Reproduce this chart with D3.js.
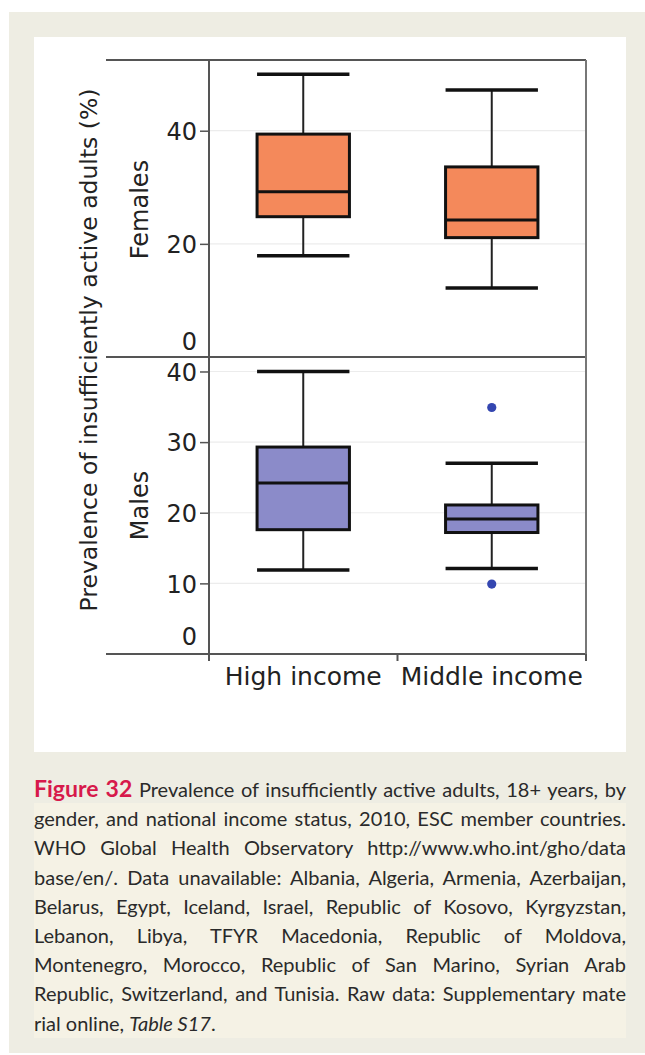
<!DOCTYPE html>
<html>
<head>
<meta charset="utf-8">
<script src="https://cdn.jsdelivr.net/npm/d3@7"></script>
<style>
  html, body { margin: 0; padding: 0; background: #ffffff; }
  svg { display: block; }
</style>
</head>
<body>
<svg id="chart" width="645" height="1055"></svg>
<script>
// ---------------- data ----------------
const categories = ["High income", "Middle income"];
const panelNames = ["Females", "Males"];

const femaleLow    = [17.9, 12.2];
const femaleQ1     = [24.8, 21.1];
const femaleMedian = [29.2, 24.2];
const femaleQ3     = [39.4, 33.6];
const femaleHigh   = [50.0, 47.2];
const femaleOutliers = [[], []];

const maleLow    = [11.9, 12.1];
const maleQ1     = [17.6, 17.2];
const maleMedian = [24.2, 19.1];
const maleQ3     = [29.3, 21.1];
const maleHigh   = [40.0, 27.0];
const maleOutliers = [[], [34.9, 9.9]];

const femaleTicks = [0, 20, 40];
const maleTicks   = [0, 10, 20, 30, 40];

const yAxisTitle = "Prevalence of insufficiently active adults (%)";

const captionLines = [
  [{t: "Figure 32", s: "fig"}, {t: " Prevalence of insufficiently active adults, 18+ years, by", s: "n"}],
  [{t: "gender, and national income status, 2010, ESC member countries.", s: "n"}],
  [{t: "WHO Global Health Observatory http://www.who.int/gho/data", s: "n"}],
  [{t: "base/en/. Data unavailable: Albania, Algeria, Armenia, Azerbaijan,", s: "n"}],
  [{t: "Belarus, Egypt, Iceland, Israel, Republic of Kosovo, Kyrgyzstan,", s: "n"}],
  [{t: "Lebanon, Libya, TFYR Macedonia, Republic of Moldova,", s: "n"}],
  [{t: "Montenegro, Morocco, Republic of San Marino, Syrian Arab", s: "n"}],
  [{t: "Republic, Switzerland, and Tunisia. Raw data: Supplementary mate", s: "n"}],
  [{t: "rial online, ", s: "n"}, {t: "Table S17", s: "i"}, {t: ".", s: "n"}]
];

// ---------------- layout ----------------
const svg = d3.select("#chart");
const chartFont = "'DejaVu Sans', Verdana, sans-serif";
const capFont = "Lato, 'Open Sans', sans-serif";

svg.append("rect").attr("x", 9).attr("y", 12).attr("width", 636).attr("height", 1041).attr("fill", "#eeede3");
svg.append("rect").attr("x", 34).attr("y", 37).attr("width", 592).attr("height", 715).attr("fill", "#ffffff");
svg.append("rect").attr("x", 34).attr("y", 803).attr("width", 592).attr("height", 235).attr("fill", "#f5f2e5");

const plotLeft = 209, plotRight = 586, lineLeft = 106;
const topY = 60, midY = 357, botY = 654;

const x = d3.scaleBand().domain(categories).range([plotLeft, plotRight]).paddingInner(0).paddingOuter(0);
const boxW = x.bandwidth() * 0.49;

const yF = d3.scaleLinear().domain([0, 52.5]).range([midY, topY]);
const yM = d3.scaleLinear().domain([0, 42.05]).range([botY, midY]);

const panels = [
  {name: panelNames[0], y: yF, ticks: femaleTicks, low: femaleLow, q1: femaleQ1, med: femaleMedian, q3: femaleQ3, high: femaleHigh, out: femaleOutliers, fill: "#f4895b", zeroShift: -15},
  {name: panelNames[1], y: yM, ticks: maleTicks, low: maleLow, q1: maleQ1, med: maleMedian, q3: maleQ3, high: maleHigh, out: maleOutliers, fill: "#8b8bc9", zeroShift: -17}
];

panels.forEach(p => {
  const g = svg.append("g");
  // gridlines
  g.selectAll("line.grid").data(p.ticks.filter(t => t > 0)).join("line")
    .attr("x1", plotLeft).attr("x2", plotRight)
    .attr("y1", d => p.y(d)).attr("y2", d => p.y(d))
    .attr("stroke", "#ececec").attr("stroke-width", 1.2);

  // y axis
  const ax = svg.append("g").attr("transform", `translate(${plotLeft},0)`)
    .call(d3.axisLeft(p.y).tickValues(p.ticks).tickSize(9).tickPadding(3).tickFormat(d3.format("d")));
  ax.select(".domain").remove();
  ax.selectAll(".tick line").attr("stroke", "#555").attr("stroke-width", 1.5)
    .attr("display", d => d === 0 ? "none" : null);
  ax.selectAll(".tick text")
    .attr("font-family", chartFont).attr("font-size", 24).attr("fill", "#222")
    .attr("dy", d => d === 0 ? (p.zeroShift / 24 + 0.32) + "em" : "0.36em");

  categories.forEach((c, i) => {
    const cx = x(c) + x.bandwidth() / 2;
    const bx = cx - boxW / 2;
    g.append("line").attr("x1", cx).attr("x2", cx)
      .attr("y1", p.y(p.high[i])).attr("y2", p.y(p.low[i]))
      .attr("stroke", "#222").attr("stroke-width", 2);
    [p.high[i], p.low[i]].forEach(v => {
      g.append("line").attr("x1", bx).attr("x2", bx + boxW)
        .attr("y1", p.y(v)).attr("y2", p.y(v))
        .attr("stroke", "#111").attr("stroke-width", 3.5);
    });
    g.append("rect").attr("x", bx).attr("width", boxW)
      .attr("y", p.y(p.q3[i])).attr("height", p.y(p.q1[i]) - p.y(p.q3[i]))
      .attr("fill", p.fill).attr("stroke", "#111").attr("stroke-width", 3);
    g.append("line").attr("x1", bx).attr("x2", bx + boxW)
      .attr("y1", p.y(p.med[i])).attr("y2", p.y(p.med[i]))
      .attr("stroke", "#111").attr("stroke-width", 3);
    g.selectAll(null).data(p.out[i]).join("circle")
      .attr("cx", cx).attr("cy", d => p.y(d)).attr("r", 4.6).attr("fill", "#3446b0");
  });
});

// frame lines
const frame = svg.append("g").attr("stroke", "#555").attr("stroke-width", 2).attr("fill", "none");
[topY, midY, botY].forEach(yy => {
  frame.append("line").attr("x1", lineLeft).attr("x2", plotRight).attr("y1", yy).attr("y2", yy);
});
frame.append("line").attr("x1", plotLeft).attr("x2", plotLeft).attr("y1", topY).attr("y2", botY + 7);
frame.append("line").attr("x1", plotRight).attr("x2", plotRight).attr("y1", topY).attr("y2", botY + 7).attr("stroke", "#777");

// x axis ticks (band boundaries) and labels
const xa = svg.append("g").attr("transform", `translate(0,${botY})`);
xa.selectAll("line").data(categories.map(c => x(c)).concat([plotRight])).join("line")
  .attr("x1", d => d).attr("x2", d => d).attr("y1", 0).attr("y2", 7)
  .attr("stroke", "#555").attr("stroke-width", 2);
xa.selectAll("text").data(categories).join("text")
  .attr("x", d => x(d) + x.bandwidth() / 2).attr("y", 31)
  .attr("text-anchor", "middle").attr("font-family", chartFont).attr("font-size", 25).attr("fill", "#222")
  .text(d => d);

// panel titles
svg.append("text").attr("transform", `translate(148,${(topY + midY) / 2 + 1}) rotate(-90)`)
  .attr("text-anchor", "middle").attr("font-family", chartFont).attr("font-size", 24).attr("fill", "#222")
  .text(panelNames[0]);
svg.append("text").attr("transform", `translate(148,${(midY + botY) / 2}) rotate(-90)`)
  .attr("text-anchor", "middle").attr("font-family", chartFont).attr("font-size", 24).attr("fill", "#222")
  .text(panelNames[1]);

// y title
svg.append("text").attr("transform", `translate(97,350) rotate(-90)`)
  .attr("text-anchor", "middle").attr("font-family", chartFont).attr("font-size", 23.5).attr("fill", "#222")
  .text(yAxisTitle);

// caption
const capLeft = 34, capRight = 626, capW = capRight - capLeft;
captionLines.forEach((line, li) => {
  const t = svg.append("text").attr("x", capLeft).attr("y", 797 + li * 29.2)
    .attr("font-family", capFont).attr("font-size", 20).attr("fill", "#2a2a2a")
    .attr("xml:space", "preserve").style("white-space", "pre");
  line.forEach(seg => {
    const ts = t.append("tspan").text(seg.t);
    if (seg.s === "fig") ts.attr("font-weight", "bold").attr("fill", "#d7194b").attr("font-size", 23);
    if (seg.s === "i") ts.attr("font-style", "italic");
  });
  if (li < captionLines.length - 1) {
    const natural = t.node().getComputedTextLength();
    const full = line.map(s => s.t).join("");
    const spaces = (full.match(/ /g) || []).length;
    const extra = capW - natural;
    if (extra >= 0 && spaces > 0) {
      t.attr("word-spacing", extra / spaces);
    } else {
      t.attr("textLength", capW).attr("lengthAdjust", "spacingAndGlyphs");
    }
  }
});
</script>
</body>
</html>
